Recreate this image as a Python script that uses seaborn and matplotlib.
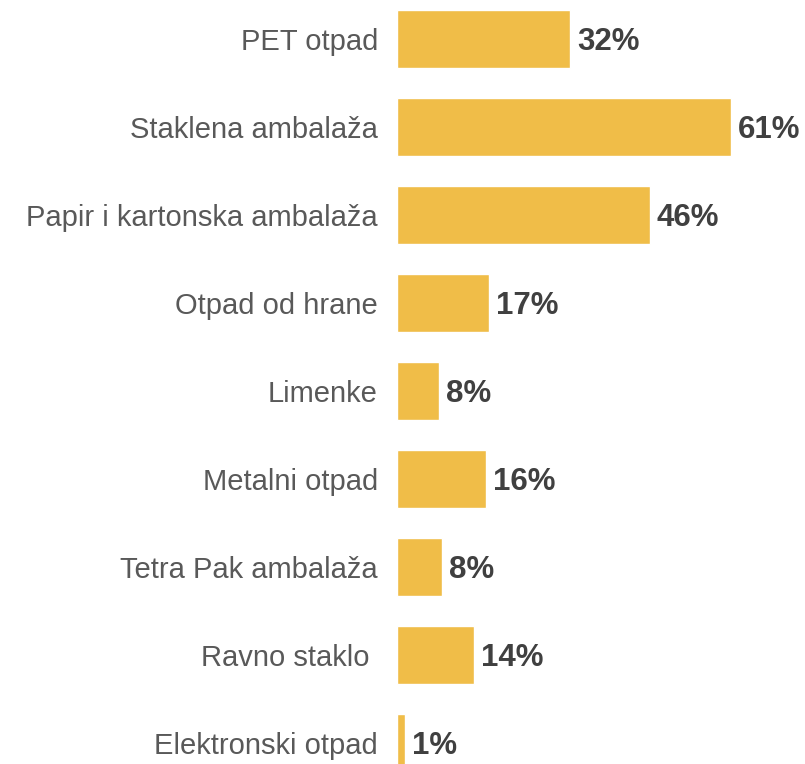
import matplotlib
matplotlib.use("Agg")
import matplotlib.pyplot as plt
import seaborn as sns
import pandas as pd

# podaci
kategorije = ["PET otpad", "Staklena ambalaža", "Papir i kartonska ambalaža",
              "Otpad od hrane", "Limenke", "Metalni otpad",
              "Tetra Pak ambalaža", "Ravno staklo ", "Elektronski otpad"]
procenti = [31.6, 61, 46.2, 16.8, 7.6, 16.2, 8.2, 14, 1.4]
oznake = ["32%", "61%", "46%", "17%", "8%", "16%", "8%", "14%", "1%"]

df = pd.DataFrame({"kategorija": kategorije, "procenat": procenti})

sns.set_style("white")
plt.rcParams["font.family"] = ["Liberation Sans", "DejaVu Sans"]

fig = plt.figure(figsize=(8.05, 7.64), dpi=100)
ax = fig.add_axes([397 / 805, 0, 408 / 805, 1])

sns.barplot(data=df, x="procenat", y="kategorija", color="#F0BD48",
            saturation=1, width=0.66, ax=ax)

for i, (v, t) in enumerate(zip(procenti, oznake)):
    ax.annotate(t, (v, i), xytext=(5, -8), textcoords="offset points",
                va="baseline", ha="left", fontsize=22.5, fontweight="bold",
                color="#404040")

ax.set_xlim(0, 74.5)
ax.set_ylim(8.24, -0.443)
ax.set_xlabel("")
ax.set_ylabel("")
ax.set_xticks([])
ax.tick_params(axis="y", length=0, pad=13.7, labelsize=21, labelcolor="#595959")
sns.despine(ax=ax, left=True, bottom=True)

fig.savefig("out.png", dpi=100)
